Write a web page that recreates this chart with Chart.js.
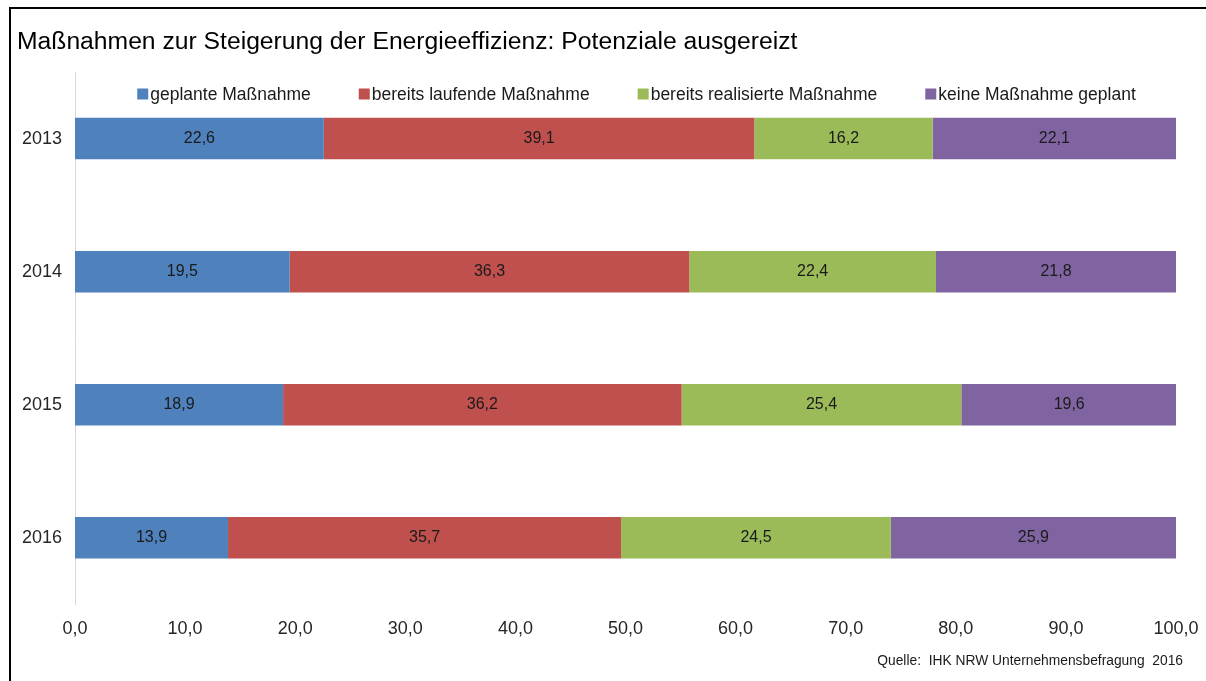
<!DOCTYPE html>
<html>
<head>
<meta charset="utf-8">
<script src="https://cdn.jsdelivr.net/npm/chart.js@4.4.1/dist/chart.umd.min.js"></script>
<style>
  html, body { margin: 0; padding: 0; background: #fff; overflow: hidden; }
  #wrap { position: relative; width: 1206px; height: 681px; }
  #frame { position: absolute; left: 9px; top: 7px; right: 0; bottom: 0;
           border-top: 2px solid #000; border-left: 2px solid #000; pointer-events: none; }
  canvas { position: absolute; left: 0; top: 0; }
</style>
</head>
<body>
<div id="wrap">
  <canvas id="c" width="1206" height="681"></canvas>
  <div id="frame"></div>
</div>
<script>
const titleText = 'Maßnahmen zur Steigerung der Energieeffizienz: Potenziale ausgereizt';
const sourceText = 'Quelle:  IHK NRW Unternehmensbefragung  2016';
const categories = ['2013', '2014', '2015', '2016'];
const seriesNames = ['geplante Maßnahme', 'bereits laufende Maßnahme', 'bereits realisierte Maßnahme', 'keine Maßnahme geplant'];
const geplant = [22.6, 19.5, 18.9, 13.9];
const laufend = [39.1, 36.3, 36.2, 35.7];
const realisiert = [16.2, 22.4, 25.4, 24.5];
const keine = [22.1, 21.8, 19.6, 25.9];
const seriesColors = ['#4F81BD', '#C0504D', '#9BBB59', '#8064A2'];
const tickLabels = ['0,0', '10,0', '20,0', '30,0', '40,0', '50,0', '60,0', '70,0', '80,0', '90,0', '100,0'];

const FONT = "'Liberation Sans', Arial, sans-serif";
const seriesValues = [geplant, laufend, realisiert, keine];

const datasets = seriesNames.map((name, i) => ({
  label: name,
  data: seriesValues[i],
  backgroundColor: seriesColors[i],
  borderWidth: 0,
  barPercentage: 0.312,
  categoryPercentage: 1
}));

const fmt = v => v.toFixed(1).replace('.', ',');

const valueLabels = {
  id: 'valueLabels',
  afterDatasetsDraw(chart) {
    const ctx = chart.ctx;
    ctx.save();
    ctx.font = '16px ' + FONT;
    ctx.fillStyle = '#1a1a1a';
    ctx.textAlign = 'center';
    ctx.textBaseline = 'middle';
    chart.data.datasets.forEach((ds, di) => {
      const meta = chart.getDatasetMeta(di);
      meta.data.forEach((el, i) => {
        const x = (el.x + el.base) / 2;
        ctx.fillText(fmt(ds.data[i]), x, el.y);
      });
    });
    ctx.restore();
  }
};

const customLegend = {
  id: 'customLegend',
  afterDraw(chart) {
    const ctx = chart.ctx;
    ctx.save();
    ctx.font = '17.5px ' + FONT;
    ctx.textBaseline = 'middle';
    const box = 11, gapBox = 2, gapItem = 48;
    const items = chart.data.datasets.map(ds => ({ text: ds.label, color: ds.backgroundColor, w: box + gapBox + ctx.measureText(ds.label).width }));
    const total = items.reduce((s, it) => s + it.w, 0) + gapItem * (items.length - 1);
    let x = 636.5 - total / 2;
    const y = 94;
    items.forEach(it => {
      ctx.fillStyle = it.color;
      ctx.fillRect(x, y - box / 2, box, box);
      ctx.fillStyle = '#1a1a1a';
      ctx.textAlign = 'left';
      ctx.fillText(it.text, x + box + gapBox, y + 1);
      x += it.w + gapItem;
    });
    // source
    ctx.font = '13.8px ' + FONT;
    ctx.textAlign = 'right';
    ctx.fillStyle = '#1a1a1a';
    ctx.fillText(sourceText, 1183, 661);
    ctx.restore();
  }
};

new Chart(document.getElementById('c'), {
  type: 'bar',
  data: { labels: categories, datasets },
  options: {
    indexAxis: 'y',
    responsive: false,
    animation: false,
    layout: { padding: { left: 17, right: 30, top: 0, bottom: 27 } },
    plugins: {
      legend: { display: false },
      tooltip: { enabled: false },
      title: {
        display: true,
        text: titleText,
        align: 'start',
        color: '#000',
        font: { family: FONT, size: 24.7, weight: 'normal', lineHeight: 1.2 },
        padding: { top: 27, bottom: 15.4 }
      }
    },
    scales: {
      x: {
        stacked: true,
        min: 0, max: 100,
        grid: { display: false, drawTicks: false },
        border: { display: false },
        ticks: {
          stepSize: 10,
          padding: 14,
          color: '#262626',
          font: { family: FONT, size: 18 },
          callback: (v, i) => tickLabels[i]
        },
        afterFit(scale) { scale.paddingLeft = 0; scale.paddingRight = 0; }
      },
      y: {
        stacked: true,
        grid: { display: false, drawTicks: false },
        border: { display: true, color: '#d9d9d9', width: 1 },
        ticks: { padding: 13, color: '#262626', font: { family: FONT, size: 18 } },
        afterFit(scale) { scale.width = 58; }
      }
    }
  },
  plugins: [valueLabels, customLegend]
});
</script>
</body>
</html>
